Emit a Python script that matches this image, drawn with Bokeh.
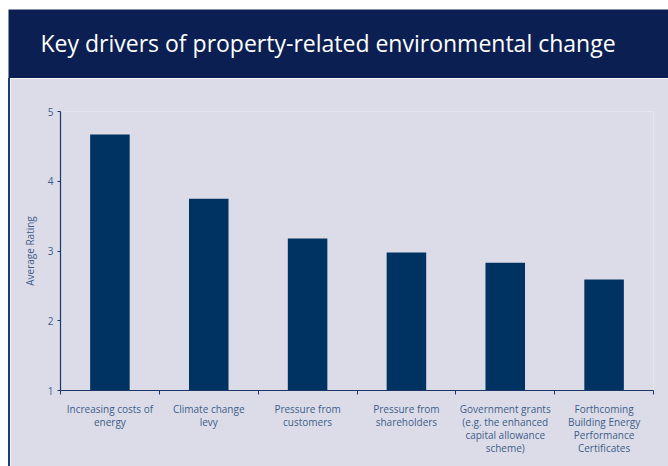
from bokeh.plotting import figure
from bokeh.models import (ColumnDataSource, Range1d, FixedTicker, Label, Spacer,
                          LinearAxis)
from bokeh.layouts import row, column
from bokeh.embed import file_html
from bokeh.resources import INLINE

# ---- data ----
title_text = "Key drivers of property-related environmental change"
categories = [
    "Increasing costs of\nenergy",
    "Climate change\nlevy",
    "Pressure from\ncustomers",
    "Pressure from\nshareholders",
    "Government grants\n(e.g. the enhanced\ncapital allowance\nscheme)",
    "Forthcoming\nBuilding Energy\nPerformance\nCertificates",
]
ratings = [4.67, 3.75, 3.18, 2.98, 2.83, 2.59]
y_ticks = [1, 2, 3, 4, 5]
y_label = "Average Rating"

NAVY = "#0b1f53"
BODY = "#dcdce8"
BAR = "#003262"
AXIS = "#1a3768"
TXT = "#3d5d88"
FONT = "Open Sans"

# ---- header ----
header = figure(width=660, height=78, x_range=Range1d(0, 660), y_range=Range1d(0, 69),
                toolbar_location=None, output_backend="svg", title=None,
                min_border_top=9, min_border_left=0, min_border_right=0, min_border_bottom=0)
header.axis.visible = False
header.grid.visible = False
header.outline_line_color = None
header.background_fill_color = NAVY
header.border_fill_color = "white"
header.add_layout(Label(x=32, y=36, text=title_text, text_color="white",
                        text_font=FONT, text_font_size="23px", text_font_style="normal",
                        text_baseline="middle", text_align="left"))

# ---- body ----
n = len(categories)
centers = [i + 0.5 for i in range(n)]
bounds = list(range(n + 1))
src = ColumnDataSource(dict(x=centers, top=ratings, cat=categories))

p = figure(width=658, height=388, x_range=Range1d(0, n), y_range=Range1d(y_ticks[0], y_ticks[-1]),
           toolbar_location=None, output_backend="svg", title=None,
           x_axis_location=None, y_axis_location=None,
           min_border_left=50, min_border_right=15, min_border_top=33, min_border_bottom=76)
p.grid.visible = False
p.outline_line_color = None
p.background_fill_color = BODY
p.border_fill_color = BODY

p.vbar(x="x", top="top", bottom=y_ticks[0], width=0.4, source=src,
       fill_color=BAR, line_color=None)

yax = LinearAxis(ticker=FixedTicker(ticks=y_ticks), axis_label=y_label)
yax.axis_line_color = AXIS
yax.axis_line_width = 1.2
yax.major_tick_line_color = AXIS
yax.major_tick_in = 0
yax.major_tick_out = 3
yax.minor_tick_out = 0
yax.minor_tick_in = 0
yax.major_label_standoff = 4
yax.major_label_text_font = FONT
yax.major_label_text_font_size = "10px"
yax.major_label_text_color = TXT
yax.axis_label_text_font = FONT
yax.axis_label_text_font_size = "10px"
yax.axis_label_text_font_style = "normal"
yax.axis_label_text_color = TXT
yax.axis_label_standoff = 8
p.add_layout(yax, "left")

xax = LinearAxis(ticker=FixedTicker(ticks=centers, minor_ticks=bounds))
xax.major_label_overrides = {c: lab for c, lab in zip(centers, categories)}
xax.axis_line_color = AXIS
xax.axis_line_width = 1.2
xax.major_tick_in = 0
xax.major_tick_out = 0
xax.minor_tick_in = 0
xax.minor_tick_out = 4
xax.minor_tick_line_color = AXIS
xax.major_label_standoff = 7
xax.major_label_text_font = FONT
xax.major_label_text_font_size = "10px"
xax.major_label_text_color = TXT
xax.major_label_text_line_height = 0.93
p.add_layout(xax, "below")

left_pad = Spacer(width=8, height=466, styles={"background-color": "white"})
left_line = Spacer(width=2, height=388, styles={"background-color": "#1d3c78"})
layout = row(left_pad, column(header, row(left_line, p, spacing=0), spacing=0), spacing=0)

open("out.html", "w").write(file_html(layout, INLINE))
